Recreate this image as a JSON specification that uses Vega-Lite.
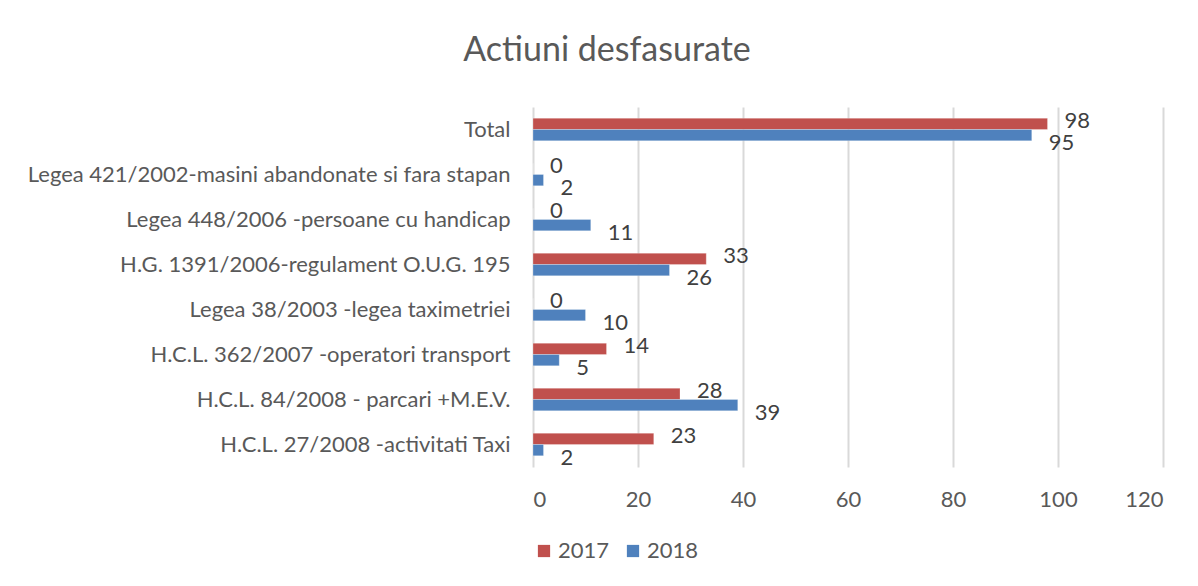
{
  "$schema": "https://vega.github.io/schema/vega-lite/v6.json",
  "width": 630,
  "height": 360,
  "autosize": {"type": "none"},
  "padding": {"left": 533, "top": 107, "right": 35, "bottom": 119},
  "background": "white",
  "title": {
    "text": "Actiuni desfasurate",
    "anchor": "middle",
    "dx": -241,
    "offset": 39,
    "fontSize": 34,
    "font": "Lato",
    "fontWeight": "normal",
    "color": "#595959"
  },
  "data": {
    "values": [
      {"cat": "Total", "year": "2017", "value": 98},
      {"cat": "Total", "year": "2018", "value": 95},
      {"cat": "Legea 421/2002-masini abandonate si fara stapan", "year": "2017", "value": 0},
      {"cat": "Legea 421/2002-masini abandonate si fara stapan", "year": "2018", "value": 2},
      {"cat": "Legea 448/2006 -persoane cu handicap", "year": "2017", "value": 0},
      {"cat": "Legea 448/2006 -persoane cu handicap", "year": "2018", "value": 11},
      {"cat": "H.G. 1391/2006-regulament O.U.G. 195", "year": "2017", "value": 33},
      {"cat": "H.G. 1391/2006-regulament O.U.G. 195", "year": "2018", "value": 26},
      {"cat": "Legea 38/2003 -legea taximetriei", "year": "2017", "value": 0},
      {"cat": "Legea 38/2003 -legea taximetriei", "year": "2018", "value": 10},
      {"cat": "H.C.L. 362/2007 -operatori transport", "year": "2017", "value": 14},
      {"cat": "H.C.L. 362/2007 -operatori transport", "year": "2018", "value": 5},
      {"cat": "H.C.L. 84/2008 - parcari +M.E.V.", "year": "2017", "value": 28},
      {"cat": "H.C.L. 84/2008 - parcari +M.E.V.", "year": "2018", "value": 39},
      {"cat": "H.C.L. 27/2008 -activitati Taxi", "year": "2017", "value": 23},
      {"cat": "H.C.L. 27/2008 -activitati Taxi", "year": "2018", "value": 2}
    ]
  },
  "encoding": {
    "y": {
      "field": "cat",
      "type": "nominal",
      "sort": null,
      "title": null,
      "scale": {"paddingInner": 0.5, "paddingOuter": 0.25},
      "axis": {
        "domain": false,
        "ticks": false,
        "grid": false,
        "labelFont": "Lato",
        "labelFontSize": 22,
        "labelColor": "#595959",
        "labelPadding": 23,
        "labelLimit": 700
      }
    },
    "yOffset": {"field": "year", "type": "nominal", "sort": ["2017", "2018"]},
    "x": {
      "field": "value",
      "type": "quantitative",
      "title": null,
      "scale": {"domain": [0, 120], "nice": false},
      "axis": {
        "values": [0, 20, 40, 60, 80, 100, 120],
        "domain": false,
        "ticks": false,
        "grid": true,
        "gridColor": "#d9d9d9",
        "gridWidth": 2,
        "labelFont": "Lato",
        "labelFontSize": 22,
        "labelColor": "#595959",
        "labelPadding": 22
      }
    }
  },
  "layer": [
    {
      "mark": {"type": "bar", "stroke": "white", "strokeWidth": 0.5, "strokeOpacity": 0.5},
      "encoding": {
        "color": {
          "field": "year",
          "type": "nominal",
          "scale": {"domain": ["2017", "2018"], "range": ["#C0504D", "#4F81BD"]},
          "legend": {
            "orient": "none",
            "direction": "horizontal",
            "legendX": 0,
            "legendY": 433,
            "title": null,
            "symbolType": "square",
            "symbolSize": 150,
            "symbolStrokeWidth": 0,
            "labelFont": "Lato",
            "labelFontSize": 22,
            "labelColor": "#595959",
            "labelOffset": 3,
            "columnPadding": 12
          }
        }
      }
    },
    {
      "transform": [{"filter": "datum.year == '2017'"}],
      "mark": {"type": "text", "align": "left", "baseline": "middle", "dx": 17, "dy": -3, "font": "Lato", "fontSize": 22, "color": "#404040"},
      "encoding": {"text": {"field": "value", "type": "quantitative"}}
    },
    {
      "transform": [{"filter": "datum.year == '2018'"}],
      "mark": {"type": "text", "align": "left", "baseline": "middle", "dx": 17, "dy": 8, "font": "Lato", "fontSize": 22, "color": "#404040"},
      "encoding": {"text": {"field": "value", "type": "quantitative"}}
    }
  ],
  "config": {"view": {"stroke": null}}
}
